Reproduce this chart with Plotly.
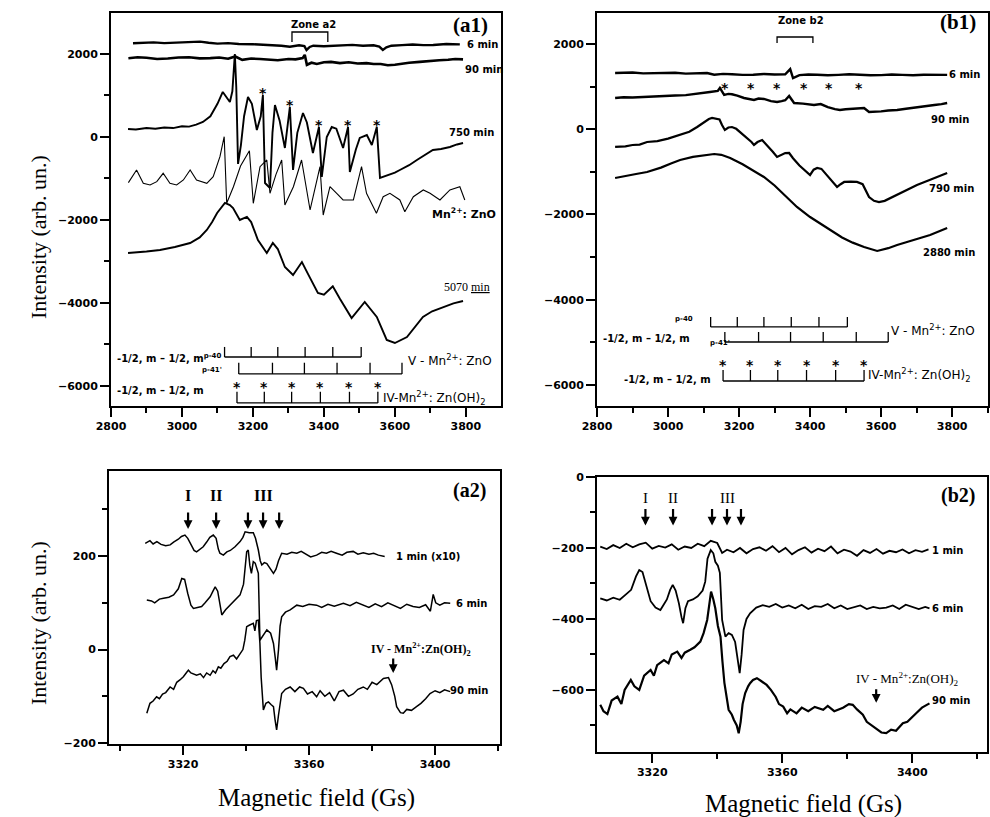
import plotly.graph_objects as go

# ================= DATA =================
# ---- panel a1 (x: magnetic field in Gs, y: intensity) ----
a1_6min = [(2862, 2258), (2890, 2275), (2920, 2280), (2950, 2262), (2980, 2270), (3010, 2285), (3051, 2297), (3075, 2270),
           (3100, 2250), (3130, 2262), (3160, 2240), (3200, 2235), (3239, 2217), (3260, 2225), (3280, 2200), (3304, 2176),
           (3330, 2210), (3345, 2190), (3351, 2097), (3360, 2170), (3370, 2200), (3400, 2185), (3427, 2193), (3455, 2210),
           (3480, 2220), (3510, 2200), (3540, 2210), (3556, 2180), (3566, 2097), (3576, 2160), (3590, 2200), (3620, 2215),
           (3650, 2230), (3680, 2215), (3708, 2217), (3745, 2240), (3783, 2233)]

a1_90min = [(2849, 1897), (2875, 1920), (2900, 1910), (2930, 1880), (2960, 1890), (2990, 1915), (3020, 1920), (3050, 1895),
            (3080, 1900), (3105, 1915), (3130, 1885), (3150, 1940), (3170, 1860), (3195, 1890), (3220, 1880), (3245, 1865),
            (3270, 1850), (3300, 1880), (3320, 1870), (3340, 1900), (3346, 1980), (3352, 1740), (3365, 1790), (3380, 1760),
            (3400, 1800), (3420, 1810), (3445, 1780), (3470, 1800), (3495, 1770), (3520, 1780), (3540, 1760), (3560, 1760),
            (3580, 1730), (3600, 1740), (3620, 1770), (3640, 1790), (3670, 1810), (3700, 1840), (3725, 1850), (3750, 1860),
            (3770, 1880), (3792, 1870)]

a1_750min = [(2848, 193), (2870, 180), (2900, 215), (2925, 200), (2950, 230), (2975, 215), (3000, 260), (3020, 250),
             (3040, 300), (3059, 361), (3080, 500), (3100, 800), (3115, 1085), (3127, 930), (3135, 843), (3142, 1100),
             (3149, 2000), (3153, 1200), (3158, -650), (3166, -200), (3175, 500), (3186, 964), (3197, 800), (3211, 169),
             (3222, 500), (3228, 1012), (3234, -1109), (3248, -1229), (3255, 100), (3262, 771), (3275, 400), (3290, -265),
             (3298, 300), (3304, 723), (3313, -795), (3325, 100), (3341, 578), (3352, 350), (3369, -386), (3380, 0),
             (3386, 241), (3394, -964), (3408, 0), (3422, 241), (3435, 200), (3454, -265), (3462, 0), (3468, 241),
             (3473, -843), (3490, -300), (3501, -24), (3521, 48), (3535, -193), (3549, 241), (3558, -988), (3580, -930),
             (3600, -860), (3614, -795), (3640, -680), (3662, -554), (3685, -430), (3707, -313), (3730, -290),
             (3755, -241), (3775, -180), (3792, -145)]

a1_mnzno = [(2849, -1101), (2872, -795), (2891, -1116), (2910, -1157), (2929, -1077), (2947, -875), (2966, -1116),
            (2985, -1157), (3004, -1036), (3023, -795), (3041, -1036), (3070, -1116), (3088, -956), (3107, -475),
            (3119, 7), (3126, -1598), (3145, -1198), (3165, -700), (3190, -330), (3201, -1598), (3220, -716),
            (3239, -554), (3248, -1357), (3265, -900), (3281, -554), (3290, -1639), (3314, -1198), (3337, -554),
            (3361, -1759), (3375, -1198), (3389, -716), (3398, -1880), (3417, -1198), (3436, -1357), (3454, -1518),
            (3483, -1518), (3506, -716), (3520, -1357), (3548, -1839), (3567, -1439), (3586, -1357), (3614, -1518),
            (3628, -1800), (3652, -1439), (3680, -1277), (3699, -1357), (3727, -1518), (3755, -1277), (3783, -1198),
            (3797, -1518)]

a1_5070min = [(2848, -2796), (2875, -2780), (2900, -2760), (2938, -2723), (2980, -2650), (3023, -2555), (3050, -2420),
              (3070, -2241), (3085, -2050), (3099, -1832), (3110, -1700), (3121, -1590), (3135, -1640), (3144, -1711),
              (3163, -2000), (3183, -1928), (3195, -2050), (3214, -2482), (3239, -2796), (3256, -2555), (3270, -2700),
              (3290, -3133), (3313, -3326), (3338, -3013), (3355, -3300), (3383, -3760), (3400, -3800), (3425, -3600),
              (3445, -3900), (3478, -4362), (3515, -3976), (3549, -4338), (3577, -4892), (3600, -4965), (3634, -4820),
              (3679, -4338), (3705, -4200), (3735, -4097), (3765, -4010), (3792, -3952)]

# ---- panel b1 ----
b1_6min = [(2851, 1320), (2880, 1335), (2900, 1330), (2930, 1310), (2960, 1315), (2990, 1335), (3020, 1325), (3050, 1305),
           (3080, 1310), (3110, 1320), (3130, 1280), (3155, 1300), (3180, 1290), (3210, 1275), (3240, 1280), (3270, 1295),
           (3300, 1285), (3330, 1290), (3344, 1410), (3352, 1200), (3370, 1270), (3395, 1285), (3420, 1280), (3450, 1265),
           (3480, 1275), (3510, 1290), (3540, 1280), (3570, 1265), (3600, 1270), (3630, 1285), (3660, 1275), (3690, 1265),
           (3720, 1280), (3755, 1270), (3786, 1275)]

b1_90min = [(2851, 733), (2875, 750), (2900, 745), (2930, 760), (2960, 770), (2989, 780), (3020, 790), (3050, 800),
            (3085, 830), (3118, 874), (3140, 900), (3146, 968), (3158, 804), (3170, 830), (3180, 820), (3195, 790),
            (3214, 733), (3242, 686), (3255, 720), (3270, 710), (3290, 660), (3307, 639), (3320, 660), (3330, 680),
            (3341, 780), (3355, 616), (3380, 600), (3411, 569), (3430, 590), (3450, 520), (3470, 470), (3484, 451),
            (3500, 470), (3520, 480), (3552, 498), (3566, 404), (3585, 410), (3600, 420), (3620, 440), (3645, 451),
            (3670, 480), (3700, 520), (3725, 540), (3750, 570), (3770, 590), (3786, 616)]

b1_790min = [(2851, -416), (2880, -400), (2900, -370), (2920, -360), (2941, -299), (2970, -280), (3000, -220), (3034, -135),
             (3060, -60), (3082, 52), (3100, 150), (3115, 240), (3124, 264), (3135, 255), (3145, 230), (3152, 100),
             (3160, -18), (3170, 40), (3180, 52), (3192, 10), (3205, -80), (3220, -200), (3235, -300), (3242, -369),
             (3252, -300), (3265, -252), (3280, -380), (3295, -530), (3307, -651), (3320, -610), (3330, -560),
             (3341, -557), (3352, -680), (3370, -850), (3388, -980), (3400, -1073), (3410, -950), (3420, -909),
             (3432, -930), (3445, -1050), (3460, -1200), (3476, -1355), (3486, -1290), (3496, -1237), (3515, -1230),
             (3532, -1237), (3548, -1290), (3558, -1450), (3566, -1590), (3580, -1680), (3594, -1707), (3610, -1680),
             (3630, -1600), (3645, -1543), (3670, -1430), (3701, -1308), (3740, -1180), (3786, -1026)]

b1_2880min = [(2851, -1144), (2880, -1090), (2910, -1050), (2941, -1003), (2980, -900), (3010, -800), (3034, -721),
              (3070, -650), (3100, -610), (3130, -581), (3150, -600), (3175, -674), (3210, -820), (3240, -960),
              (3270, -1120), (3300, -1320), (3330, -1560), (3363, -1824), (3400, -2060), (3430, -2220), (3456, -2364),
              (3490, -2540), (3520, -2660), (3552, -2762), (3589, -2856), (3620, -2790), (3645, -2715), (3690, -2600),
              (3738, -2481), (3786, -2317)]

# ---- stick diagrams (line positions, Gs) ----
v_upper_pos = [3120, 3195, 3270, 3347, 3425, 3505]
v_lower_pos = [3160, 3255, 3345, 3437, 3530, 3620]
iv_pos = [3155, 3232, 3309, 3390, 3472, 3552]

# stars marking IV lines on the spectra
a1_star_x = [3228, 3304, 3386, 3468, 3549]
a1_star_y = [1012, 723, 241, 241, 241]
b1_star_x = [3160, 3234, 3307, 3383, 3453, 3538]
b1_star_y = [968, 968, 968, 968, 968, 968]

# ---- panel a2 ----
a2_1min = [(3308, 227), (3309.5, 233), (3310.5, 226), (3311.7, 231), (3313, 225), (3314.5, 222), (3315.9, 224), (3317, 230),
           (3318.5, 236), (3319.5, 242), (3320.6, 245), (3321.5, 238), (3322.5, 225), (3323.5, 212), (3324.3, 209),
           (3325.3, 214), (3326.4, 220), (3327.5, 230), (3328.5, 240), (3329.6, 245), (3330.5, 238), (3331.2, 215),
           (3331.7, 206), (3332.8, 202), (3333.9, 209), (3335, 212), (3336.5, 220), (3338.1, 231), (3339, 240),
           (3339.7, 252), (3341, 250), (3342.3, 250), (3343, 238), (3343.9, 213), (3344.5, 190), (3345, 181),
           (3345.8, 186), (3346.6, 184), (3347.5, 175), (3348.7, 163), (3349.5, 172), (3350.3, 190), (3351.3, 206),
           (3353, 204), (3354.5, 208), (3356.1, 206), (3357.5, 210), (3359, 204), (3360.5, 198), (3362.4, 202),
           (3364, 208), (3365.5, 206), (3367, 210), (3368.7, 206), (3370.5, 202), (3372, 208), (3374, 210),
           (3375.5, 204), (3377.2, 207), (3379, 204), (3380.5, 206), (3382, 202), (3384, 199)]

a2_6min = [(3308.5, 106), (3310, 104), (3311, 100), (3312.5, 108), (3313.8, 110), (3315.5, 112), (3317, 117), (3318.5, 130),
           (3319.6, 152), (3320.5, 150), (3321.5, 120), (3322.5, 95), (3323.3, 88), (3324.5, 90), (3325.9, 92), (3327, 100),
           (3328.6, 113), (3329.5, 125), (3330.2, 134), (3331, 125), (3331.6, 100), (3332.3, 74), (3333.5, 85),
           (3334.9, 95), (3336.5, 105), (3338.1, 117), (3339.2, 140), (3340.2, 209), (3340.7, 213), (3341.2, 180),
           (3341.7, 163), (3342.3, 188), (3342.9, 185), (3343.5, 170), (3343.9, 163), (3344.4, 20), (3345.5, 30),
           (3346.6, 42), (3347.8, 35), (3348.7, 13), (3349.3, -20), (3349.7, -44), (3350.3, 0), (3350.8, 50),
           (3351.3, 70), (3352.5, 80), (3354, 85), (3356.1, 95), (3358, 92), (3360, 97), (3362.4, 95), (3364, 90),
           (3366, 97), (3368, 93), (3370.9, 99), (3373, 94), (3375, 101), (3377, 95), (3379, 90), (3381, 98),
           (3383, 92), (3385, 100), (3387, 94), (3389, 88), (3391, 97), (3393, 92), (3395, 90), (3397, 96),
           (3398.5, 82), (3399.4, 118), (3400.2, 100), (3401.5, 95), (3403, 100), (3404.8, 99)]

a2_90min = [(3308.5, -136), (3309.5, -115), (3310.5, -110), (3311.6, -101), (3312.5, -105), (3313.5, -95), (3314.5, -92),
            (3315.9, -80), (3317, -85), (3318, -70), (3319, -65), (3320.1, -58), (3321, -50), (3321.7, -44), (3322.5, -50),
            (3324.3, -55), (3325.5, -52), (3326.5, -60), (3327.5, -50), (3328.6, -55), (3329.5, -45), (3330.3, -50),
            (3331.2, -37), (3332, -40), (3333, -30), (3334, -25), (3334.9, -15), (3336, -12), (3337, -20), (3338.1, -8),
            (3339, 0), (3339.6, 20), (3340.2, 49), (3341, 52), (3342.3, 56), (3342.8, 40), (3343.3, 62), (3343.9, 63),
            (3344.4, 13), (3344.8, -60), (3345.5, -129), (3346.3, -115), (3347.1, -112), (3348, -118), (3348.7, -122),
            (3349.2, -150), (3349.7, -172), (3350.3, -140), (3351.3, -94), (3352.5, -85), (3354, -80), (3355.5, -90),
            (3357, -80), (3358.2, -83), (3359.5, -95), (3361, -90), (3362.4, -101), (3363.5, -88), (3365, -100),
            (3366.5, -92), (3368, -110), (3369.5, -90), (3370.9, -87), (3372.5, -100), (3374, -95), (3375.5, -85),
            (3377.2, -80), (3378.5, -85), (3380, -70), (3381.5, -75), (3383.6, -62), (3385.2, -60), (3386.2, -75),
            (3387.2, -100), (3387.8, -122), (3389, -135), (3389.9, -136), (3391, -128), (3392.5, -130), (3394.1, -122),
            (3395.5, -115), (3397, -105), (3398.4, -94), (3400, -88), (3401.5, -92), (3403, -86), (3404.8, -90)]

# ---- panel b2 ----
b2_1min = [(3304, -196), (3306, -203), (3308, -192), (3310, -200), (3312, -188), (3314, -198), (3316, -190), (3318, -185),
           (3320, -202), (3322, -194), (3324, -199), (3326, -190), (3328, -205), (3330, -196), (3332, -200), (3334, -188),
           (3336, -195), (3338, -180), (3340, -186), (3341.5, -214), (3343, -205), (3345, -212), (3347, -200), (3349, -215),
           (3351, -203), (3353, -198), (3355, -208), (3357, -195), (3359, -212), (3361, -200), (3363, -218), (3365, -206),
           (3367, -198), (3369, -213), (3371, -202), (3373, -209), (3375, -196), (3377, -215), (3379, -205), (3381, -210),
           (3383, -222), (3385, -206), (3387, -214), (3389, -203), (3391, -216), (3393, -208), (3395, -212), (3397, -204),
           (3399, -215), (3401, -206), (3403, -211), (3405, -204)]

b2_6min = [(3304, -342), (3306, -348), (3308, -340), (3310, -346), (3312, -330), (3313.5, -318), (3315, -280), (3316, -262),
           (3317, -268), (3318, -300), (3319.5, -350), (3321, -368), (3322.5, -375), (3323.5, -360), (3324.5, -345),
           (3325.5, -318), (3326.3, -304), (3327.2, -320), (3328.2, -356), (3329, -395), (3329.5, -412), (3330.2, -370),
           (3331, -350), (3332.5, -345), (3334, -336), (3335.5, -320), (3336.3, -295), (3337, -230), (3338, -206),
           (3338.8, -215), (3339.4, -239), (3340.2, -250), (3340.8, -270), (3341.5, -403), (3342.5, -450), (3343.5, -440),
           (3344.5, -445), (3345.5, -465), (3346.3, -520), (3346.9, -553), (3347.5, -500), (3348.1, -431), (3349, -400),
           (3350.1, -384), (3352, -368), (3354, -361), (3356, -366), (3358, -358), (3360, -368), (3362, -362), (3364, -370),
           (3366, -360), (3368, -372), (3370, -364), (3372, -366), (3374, -358), (3376, -370), (3378, -362), (3380, -372),
           (3382, -366), (3384, -362), (3386, -372), (3388, -366), (3390, -370), (3392, -368), (3394, -362), (3396, -372),
           (3398, -360), (3400, -366), (3402, -372), (3404, -366), (3405.3, -370)]

b2_90min = [(3304, -642), (3305, -660), (3306.2, -668), (3307.5, -630), (3309.3, -619), (3310.5, -640), (3311.5, -600),
            (3313.4, -572), (3314.5, -590), (3316, -600), (3317.5, -560), (3319.5, -544), (3320.5, -560), (3321.5, -530),
            (3323.6, -516), (3325, -525), (3326, -500), (3327.7, -492), (3329, -510), (3330, -495), (3331.7, -487),
            (3333, -480), (3334.8, -464), (3335.8, -440), (3336.9, -403), (3337.6, -360), (3338.1, -323), (3338.8, -345),
            (3339.4, -370), (3340.2, -420), (3341, -450), (3341.6, -520), (3342.2, -580), (3343.5, -656), (3344.5, -670),
            (3345.1, -684), (3346, -700), (3346.6, -722), (3347.2, -690), (3347.8, -640), (3348.6, -609), (3349.5, -590),
            (3350.1, -581), (3351, -572), (3352.2, -567), (3353.5, -575), (3355.2, -586), (3356.5, -600), (3358, -620),
            (3359, -640), (3360.3, -647), (3361.5, -666), (3362.5, -655), (3364.4, -666), (3366, -650), (3368, -660),
            (3370, -648), (3372.6, -656), (3374, -645), (3376, -660), (3378.7, -650), (3380.5, -640), (3381.7, -642),
            (3383, -655), (3384.8, -670), (3386, -690), (3387.5, -700), (3388.9, -708), (3390.5, -720), (3392, -722),
            (3393.5, -712), (3395, -715), (3397.1, -694), (3398.5, -690), (3400, -675), (3401.2, -666), (3403, -650),
            (3405.3, -638)]

# arrows (line positions in a2/b2)
a2_arrow_x = [3321.6, 3330.5, 3340.6, 3345.4, 3350.5]
b2_arrow_x = [3317.9, 3326.4, 3338.4, 3343.0, 3347.3]
a2_iv_arrow_x = 3386.7
b2_iv_arrow_x = 3388.9

# ================= FIGURE =================
W, H = 990, 817
BLACK = "#000000"
SERIF = "Liberation Serif, Times New Roman, serif"
SANS = "DejaVu Sans, Liberation Sans, Arial, sans-serif"

fig = go.Figure()


def line(x, y, xa, ya, width=2.0):
    fig.add_trace(go.Scatter(x=x, y=y, mode="lines", xaxis=xa, yaxis=ya,
                             line=dict(color=BLACK, width=width), showlegend=False,
                             hoverinfo="skip"))


def curve(pairs, xa, ya, width=2.0):
    xs = [p[0] for p in pairs]
    ys = [p[1] for p in pairs]
    line(xs, ys, xa, ya, width)


def comb(pos, base, top, xa, ya):
    xs, ys = [pos[0], pos[-1], None], [base, base, None]
    for p in pos:
        xs += [p, p, None]
        ys += [base, top, None]
    line(xs, ys, xa, ya, width=1.3)


# a1
curve(a1_6min, "x", "y", 2.4)
curve(a1_90min, "x", "y", 2.6)
curve(a1_750min, "x", "y", 1.9)
curve(a1_mnzno, "x", "y", 1.1)
curve(a1_5070min, "x", "y", 1.9)
comb(v_upper_pos, -5302, -5060, "x", "y")
comb(v_lower_pos, -5711, -5440, "x", "y")
comb(iv_pos, -6410, -6140, "x", "y")
line([3310, 3310, 3411, 3411], [2290, 2530, 2530, 2290], "x", "y", 1.3)

# b1
curve(b1_6min, "x2", "y2", 2.4)
curve(b1_90min, "x2", "y2", 2.4)
curve(b1_790min, "x2", "y2", 2.2)
curve(b1_2880min, "x2", "y2", 2.2)
comb(v_upper_pos, -4639, -4405, "x2", "y2")
comb(v_lower_pos, -4991, -4757, "x2", "y2")
comb(iv_pos, -5906, -5648, "x2", "y2")
line([3307, 3307, 3408, 3408], [2023, 2164, 2164, 2023], "x2", "y2", 1.3)

# a2
curve(a2_1min, "x3", "y3", 1.5)
curve(a2_6min, "x3", "y3", 1.5)
curve(a2_90min, "x3", "y3", 1.5)

# b2
curve(b2_1min, "x4", "y4", 1.8)
curve(b2_6min, "x4", "y4", 1.8)
curve(b2_90min, "x4", "y4", 2.2)


def px2paper(px, py):
    return px / W, 1 - py / H


MINOR = lambda d: dict(dtick=d, ticklen=5, ticks="outside", tickcolor=BLACK, tickwidth=1.5)


def axis_common(**kw):
    d = dict(showgrid=False, zeroline=False, showline=True, linecolor=BLACK, linewidth=2,
             mirror=True, ticks="outside", ticklen=9, tickwidth=1.5, tickcolor=BLACK,
             automargin=False,
             tickfont=dict(family=SANS, size=11, color=BLACK, weight="bold"))
    d.update(kw)
    return d


def dom_x(l, r):
    return [l / W, r / W]


def dom_y(b, t):
    return [1 - b / H, 1 - t / H]


fig.update_layout(
    width=W, height=H, margin=dict(l=0, r=0, t=0, b=0, autoexpand=False),
    paper_bgcolor="white", plot_bgcolor="white", showlegend=False,
    xaxis=axis_common(domain=dom_x(111, 501), range=[2800, 3899], dtick=200, tick0=2800, anchor="y", minor=MINOR(100)),
    yaxis=axis_common(domain=dom_y(406, 13), range=[-6483, 2988], dtick=2000, tick0=0, tickformat="d", anchor="x", minor=MINOR(1000)),
    xaxis2=axis_common(domain=dom_x(597, 988), range=[2800, 3901], dtick=200, tick0=2800, anchor="y2", minor=MINOR(100)),
    yaxis2=axis_common(domain=dom_y(406, 13), range=[-6493, 2727], dtick=2000, tick0=0, tickformat="d", anchor="x2", minor=MINOR(1000)),
    xaxis3=axis_common(domain=dom_x(109, 500), range=[3296.5, 3420.6], dtick=40, tick0=3320, anchor="y3", minor=MINOR(20)),
    yaxis3=axis_common(domain=dom_y(744, 471), range=[-202, 382], dtick=200, tick0=0, tickformat="d", anchor="x3", minor=MINOR(100)),
    xaxis4=axis_common(domain=dom_x(597, 987), range=[3303, 3423], dtick=40, tick0=3320, anchor="y4", minor=MINOR(20)),
    yaxis4=axis_common(domain=dom_y(752, 477), range=[-775, 0], dtick=200, tick0=0, tickformat="d", anchor="x4", minor=MINOR(100)),
)

ann = []


def txt(x, y, text, xref, yref, size=11, family=SANS, bold=False, xanchor="left", yanchor="middle", angle=0):
    ann.append(dict(x=x, y=y, xref=xref, yref=yref, text=text, showarrow=False,
                    xanchor=xanchor, yanchor=yanchor, textangle=angle,
                    font=dict(family=family, size=size, color=BLACK, weight="bold" if bold else "normal")))


def arrow(x, y_tip, xref, yref, length=18):
    ann.append(dict(x=x, y=y_tip, xref=xref, yref=yref, ax=0, ay=-length, text="",
                    showarrow=True, arrowhead=2, arrowsize=0.8, arrowwidth=2.2, arrowcolor=BLACK))


# ---- a1 annotations ----
txt(3797, 2217, "6 min", "x", "y", 10, bold=True)
txt(3792, 1615, "90 min", "x", "y", 10, bold=True)
txt(3746, 120, "750 min", "x", "y", 10, bold=True)
txt(3699, -1832, "Mn<sup>2+</sup>: ZnO", "x", "y", 11, bold=True)
txt(3732, -3615, "5070 <u>min</u>", "x", "y", 12, family=SERIF)
txt(3372, 2700, "Zone a2", "x", "y", 10, bold=True, xanchor="center")
txt(490 / W, 1 - 25 / H, "(a1)", "paper", "paper", 21, family=SERIF, bold=True, xanchor="right")
for sx, sy in zip(a1_star_x, a1_star_y):
    txt(sx, sy + 50, "*", "x", "y", 14, bold=True, xanchor="center", yanchor="middle")
for sx in iv_pos:
    txt(sx, -6025, "*", "x", "y", 14, bold=True, xanchor="center", yanchor="middle")
txt(2812, -5330, "-1/2, m \u2013 1/2, m<sup>p-40</sup>", "x", "y", 10, bold=True)
txt(3050, -5620, "p-41'", "x", "y", 7, bold=True)
txt(3630, -5380, "V - Mn<sup>2+</sup>: ZnO", "x", "y", 12)
txt(2812, -6100, "-1/2, m \u2013 1/2, m", "x", "y", 10, bold=True)
txt(3562, -6300, "IV-Mn<sup>2+</sup>: Zn(OH)<sub>2</sub>", "x", "y", 12)

# ---- b1 annotations ----
txt(3786, 1275, "6 min", "x2", "y2", 10, bold=True)
txt(3735, 240, "90 min", "x2", "y2", 10, bold=True)
txt(3730, -1400, "790 min", "x2", "y2", 10, bold=True)
txt(3712, -2880, "2880 min", "x2", "y2", 10, bold=True)
txt(3375, 2540, "Zone b2", "x2", "y2", 10, bold=True, xanchor="center")
txt(978 / W, 1 - 22 / H, "(b1)", "paper", "paper", 21, family=SERIF, bold=True, xanchor="right")
for sx, sy in zip(b1_star_x, b1_star_y):
    txt(sx, sy, "*", "x2", "y2", 14, bold=True, xanchor="center", yanchor="middle")
for sx in iv_pos:
    txt(sx, -5531, "*", "x2", "y2", 14, bold=True, xanchor="center", yanchor="middle")
txt(3015, -4450, "p-40", "x2", "y2", 7, bold=True)
txt(2810, -4900, "-1/2, m \u2013 1/2, m", "x2", "y2", 10, bold=True)
txt(3112, -5010, "p-41'", "x2", "y2", 7, bold=True)
txt(3622, -4720, "V - Mn<sup>2+</sup>: ZnO", "x2", "y2", 12)
txt(2870, -5860, "-1/2, m \u2013 1/2, m", "x2", "y2", 10, bold=True)
txt(3558, -5760, "IV-Mn<sup>2+</sup>: Zn(OH)<sub>2</sub>", "x2", "y2", 12)

# ---- a2 annotations ----
txt(3387, 199, "1 min (x10)", "x3", "y3", 10, bold=True)
txt(3406, 99, "6 min", "x3", "y3", 10, bold=True)
txt(3404, -88, "90 min", "x3", "y3", 10, bold=True)
txt(488 / W, 1 - 490 / H, "(a2)", "paper", "paper", 20, family=SERIF, bold=True, xanchor="right")
txt(a2_arrow_x[0], 330, "I", "x3", "y3", 16, family=SERIF, bold=True, xanchor="center")
txt(a2_arrow_x[1], 330, "II", "x3", "y3", 16, family=SERIF, bold=True, xanchor="center")
txt(a2_arrow_x[3], 330, "III", "x3", "y3", 16, family=SERIF, bold=True, xanchor="center")
for ax_ in a2_arrow_x:
    arrow(ax_, 258, "x3", "y3")
txt(3379, 0, "IV - Mn<sup>2+</sup>:Zn(OH)<sub>2</sub>", "x3", "y3", 12, family=SERIF, bold=True)
arrow(a2_iv_arrow_x, -50, "x3", "y3", 16)

# ---- b2 annotations ----
txt(3405.5, -206, "1 min", "x4", "y4", 10, bold=True)
txt(3405.5, -370, "6 min", "x4", "y4", 10, bold=True)
txt(3405.5, -630, "90 min", "x4", "y4", 10, bold=True)
txt(977 / W, 1 - 495 / H, "(b2)", "paper", "paper", 20, family=SERIF, bold=True, xanchor="right")
txt(b2_arrow_x[0], -60, "I", "x4", "y4", 15, family=SERIF, xanchor="center")
txt(b2_arrow_x[1], -60, "II", "x4", "y4", 15, family=SERIF, xanchor="center")
txt(b2_arrow_x[3], -60, "III", "x4", "y4", 15, family=SERIF, xanchor="center")
for ax_ in b2_arrow_x:
    arrow(ax_, -137, "x4", "y4")
txt(3382, -570, "IV - Mn<sup>2+</sup>:Zn(OH)<sub>2</sub>", "x4", "y4", 13, family=SERIF)
arrow(b2_iv_arrow_x, -636, "x4", "y4", 15)

# ---- axis titles ----
x, y = px2paper(38, 321)
txt(x, y, "Intensity (arb. un.)", "paper", "paper", 22, family=SERIF, xanchor="center", yanchor="bottom", angle=-90)
x, y = px2paper(38, 707)
txt(x, y, "Intensity (arb. un.)", "paper", "paper", 22, family=SERIF, xanchor="center", yanchor="bottom", angle=-90)
x, y = px2paper(316, 798)
txt(x, y, "Magnetic field (Gs)", "paper", "paper", 25, family=SERIF, xanchor="center")
x, y = px2paper(803, 804)
txt(x, y, "Magnetic field (Gs)", "paper", "paper", 25, family=SERIF, xanchor="center")

fig.update_layout(annotations=ann)
fig.write_html("out.html",
               config={"displayModeBar": False},
               post_script="document.body.style.margin='0px';document.body.style.padding='0px';")
